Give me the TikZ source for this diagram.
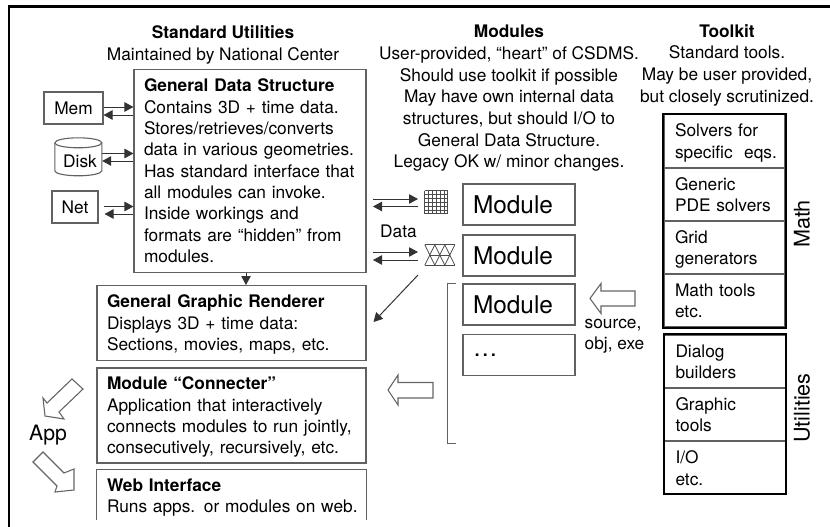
\documentclass[tikz,border=0pt]{standalone}
\usepackage{fontspec}
\setmainfont{TeX Gyre Heros}
\usetikzlibrary{arrows.meta,calc}
\newcommand{\bodyfont}{\fontsize{17.3}{21.35}\selectfont}
\newcommand{\headfont}{\fontsize{17.3}{21.67}\selectfont}
\newcommand{\topadd}[1]{\rule{0pt}{#1}}
\tikzset{
  x=1pt,y=-1pt,
  thinline/.style={draw=black!62,line width=1.1pt},
  frameline/.style={draw=black,line width=2.2pt},
  toolframe/.style={draw=black,line width=2pt},
  flow/.style={draw=black!80,line width=1pt,-{Triangle[length=9pt,width=9.5pt]},shorten >=0pt},
  hollow/.style={draw=black!60,line width=1.1pt,fill=white,line join=miter},
  mesh/.style={draw=black!70,line width=.8pt},
  txt/.style={font=\bodyfont,text=black,inner sep=0pt,align=center},
  headtxt/.style={font=\headfont,text=black,inner sep=0pt,align=center},
  smallbox/.style={thinline,font=\bodyfont,inner sep=0pt,anchor=center},
  bigbox/.style={thinline,font=\bodyfont,align=left,inner xsep=10pt,inner ysep=0pt,anchor=center},
  modbox/.style={thinline,font=\fontsize{24.4}{28}\selectfont,align=left,inner xsep=10pt,inner ysep=0pt,
    minimum height=41pt,text width=92pt,anchor=center},
  cell/.style={thinline,font=\bodyfont,align=left,inner xsep=11pt,inner ysep=0pt,
    text width=99pt,minimum height=53pt,anchor=center},
  sidelabel/.style={font=\fontsize{21.6}{26}\selectfont,inner sep=0pt,rotate=90,anchor=center}
}
\begin{document}
\begin{tikzpicture}
\useasboundingbox (0,0) rectangle (830,527);
\fill[white] (0,0) rectangle (830,527);
% outer frame
\draw[frameline] (830,6.5) -- (9,6.5) -- (9,527);
% headers
\node[headtxt] (hstd) at (223,44.7) {\textbf{Standard Utilities}\\Maintained by National Center};
\node[headtxt] (hmod) at (509,98.5) {\textbf{Modules}\\User-provided, “heart” of CSDMS.\\Should use toolkit if possible\\May have own internal data\\structures, but should I/O to\\General Data Structure.\\Legacy OK w/ minor changes.};
\node[headtxt] (htool) at (727,65) {\textbf{Toolkit}\\Standard tools.\\May be user provided,\\but closely scrutinized.};
% left column
\node[bigbox,text width=212pt,minimum height=202.5pt] (gds) at (250,170.8) {\textbf{General Data Structure}\\Contains 3D + time data.\\Stores/retrieves/converts\\data in various geometries.\\Has standard interface that\\all modules can invoke.\\Inside workings and\\formats are “hidden” from\\modules.};
\node[smallbox,minimum width=59pt,minimum height=32pt] (mem) at (73.5,108) {Mem};
\node[font=\bodyfont,inner sep=0pt,minimum width=47pt,minimum height=38pt] (disk) at (78.5,157) {\hspace{3pt}\raisebox{-10pt}[0pt][0pt]{Disk}};
\draw[thinline] (disk.north west) ++(0,5) arc[x radius=23.5pt,y radius=5pt,start angle=180,end angle=0]
  -- ++(0,28) arc[x radius=23.5pt,y radius=5pt,start angle=0,end angle=-180] -- cycle;
\draw[thinline] (disk.north west) ++(0,5) arc[x radius=23.5pt,y radius=5pt,start angle=180,end angle=360];
\node[smallbox,minimum width=46pt,minimum height=32pt] (net) at (75,207) {Net};
\node[bigbox,text width=249pt,minimum height=74.5pt] (ggr) at (231.5,322.8) {\topadd{16.5pt}\textbf{General Graphic Renderer}\\Displays 3D + time data:\\Sections, movies, maps, etc.};
\node[bigbox,text width=249pt,minimum height=95pt] (conn) at (231.5,415.5) {\topadd{16.5pt}\textbf{Module “Connecter”}\\Application that interactively\\connects modules to run jointly,\\consecutively, recursively, etc.};
\node[font=\bodyfont,align=left,inner xsep=10pt,inner ysep=0pt,text width=249pt,minimum height=50.5pt] (web) at (231.5,494.8) {\topadd{18.5pt}\textbf{Web Interface}\\\mbox{Runs apps. or modules on web.}};
\draw[thinline] (web.south west) -- (web.north west) -- (web.north east) -- (web.south east);
% memory arrows
\coordinate (ma) at (0,107); \coordinate (mb) at (0,115);
\coordinate (da) at (0,153.5); \coordinate (db) at (0,161);
\coordinate (na) at (0,206.5); \coordinate (nb) at (0,214);
\draw[flow] (mem.east |- ma) -- (gds.west |- ma);
\draw[flow] (gds.west |- mb) -- (mem.east |- mb);
\draw[flow] (disk.east |- da) -- (gds.west |- da);
\draw[flow] (gds.west |- db) -- (disk.east |- db);
\draw[flow] (net.east |- na) ++(5,0) -- (gds.west |- na);
\draw[flow] (gds.west |- nb) -- ($(net.east |- nb)+(6,0)$);
\coordinate (dn) at (246,0);
\draw[flow] (gds.south -| dn) -- (ggr.north -| dn);
% meshes
\node[inner sep=0pt,minimum width=23pt,minimum height=23pt] (grid) at (436.5,202.5) {};
\foreach \i in {0,...,6} {
  \draw[mesh] ($(grid.north west)+(\i*23/6,0)$) -- ($(grid.south west)+(\i*23/6,0)$);
  \draw[mesh] ($(grid.north west)+(0,\i*23/6)$) -- ($(grid.north east)+(0,\i*23/6)$);
}
\node[inner sep=0pt,minimum width=30pt,minimum height=20pt] (tri) at (440,255) {};
\draw[mesh] (tri.north west) -- (tri.north east) (tri.south west) -- (tri.south east);
\draw[mesh] ($(tri.west)+(5,0)$) -- ($(tri.east)+(-5,0)$);
\foreach \i in {0,1,2} {
  \draw[mesh] ($(tri.north west)+(\i*10,0)$) -- ($(tri.south west)+(\i*10+10,0)$);
  \draw[mesh] ($(tri.north west)+(\i*10+10,0)$) -- ($(tri.south west)+(\i*10,0)$);
}
% data arrows
\coordinate (ga) at (373,199); \coordinate (gb) at (418,206.5);
\coordinate (ta) at (373,252); \coordinate (tb) at (418,260);
\draw[flow] (ga) -- (ga -| gb);
\draw[flow] (gb) -- (gb -| ga);
\draw[flow] (ta) -- (ta -| tb);
\draw[flow] (tb) -- (tb -| ta);
\node[txt] (data) at (398.5,231) {Data};
\coordinate (da1) at (418,275); \coordinate (da2) at (373.5,322);
\draw[flow] (da1) -- (da2);
% modules
\node[modbox] (m1) at (519,204.5) {Module};
\node[modbox] (m2) at (519,255.5) {Module};
\node[modbox] (m3) at (519,304.5) {Module};
\node[modbox] (m4) at (519,355.3) {…};
\draw[thinline] (455.5,283.5) -- (447.5,283.5) -- (447.5,443.5) -- (455.5,443.5);
% hollow arrows
\draw[hollow] (590,298.5) -- (601,283.5) -- (601,291) -- (635,291) -- (635,306) -- (601,306) -- (601,313.5) -- cycle;
\draw[hollow] (388,390) -- (398,375) -- (398,382.5) -- (433,382.5) -- (433,398) -- (398,398) -- (398,405) -- cycle;
\draw[hollow] (72,379) -- (83,389) -- (59,412) -- (64,419) -- (45,416) -- (43,398) -- (47,403) -- cycle;
\draw[hollow] (33,462) -- (43,452) -- (64,473) -- (74,469) -- (74,490) -- (55,492) -- (57,486) -- cycle;
\node[font=\fontsize{21.2}{26}\selectfont,inner sep=0pt] (app) at (48,435) {App};
\node[txt,align=left] (src) at (614.5,336.5) {source,\\obj, exe};
% toolkit
\node[cell] (c1) at (724.5,141) {\topadd{16.5pt}Solvers for\\\mbox{specific\ \ eqs.}};
\node[cell] (c2) at (724.5,194.5) {Generic\\PDE solvers};
\node[cell] (c3) at (724.5,247.5) {\topadd{16.5pt}Grid\\generators};
\node[cell] (c4) at (724.5,300.5) {Math tools\\etc.};
\draw[toolframe] (c1.north west) rectangle (c4.south east);
\node[cell] (c5) at (725,361.5) {Dialog\\builders};
\node[cell] (c6) at (725,414.5) {Graphic\\tools};
\node[cell] (c7) at (725,467) {\topadd{15.5pt}I/O\\etc.};
\draw[toolframe] (c5.north west) rectangle (c7.south east);
\node[sidelabel] (math) at (802,224) {Math};
\node[sidelabel] (util) at (802,408) {Utilities};
\end{tikzpicture}
\end{document}
